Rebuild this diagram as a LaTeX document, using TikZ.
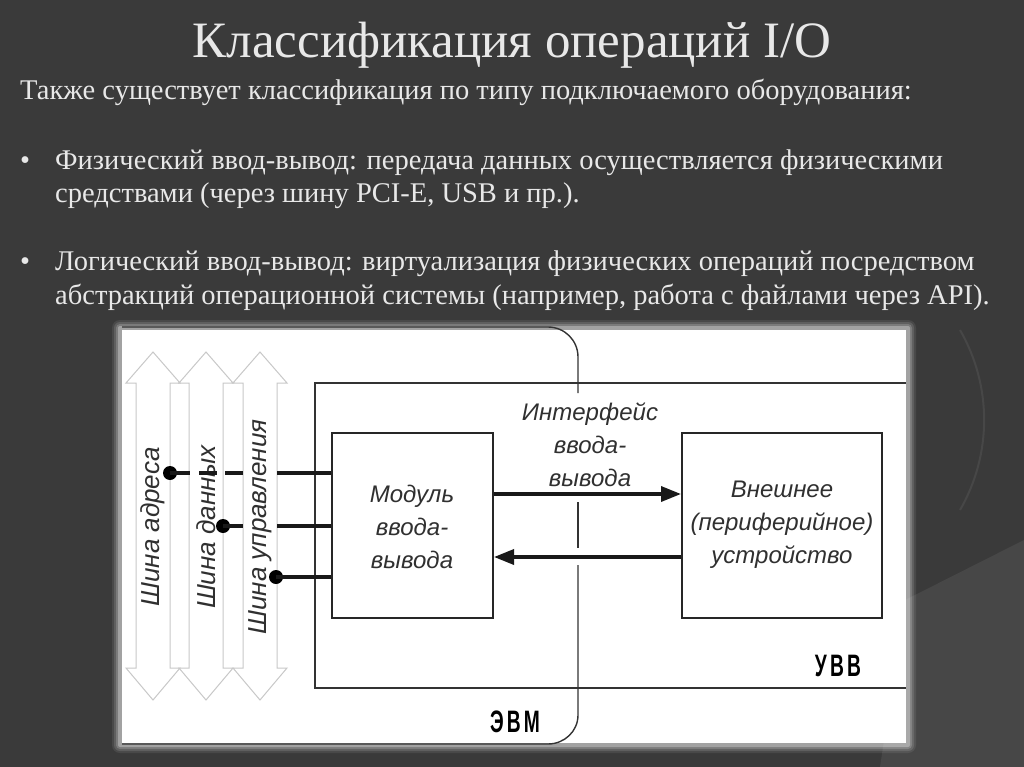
\documentclass[tikz,border=0pt]{standalone}
\usepackage{fontspec}
\setmainfont{Liberation Serif}
\newfontfamily\diag{Liberation Sans}
\usetikzlibrary{arrows.meta}
\definecolor{bg}{HTML}{3A3A3A}
\definecolor{bgl}{HTML}{474747}
\definecolor{txt}{HTML}{E8E8E8}
\definecolor{dg}{HTML}{303030}
\definecolor{busc}{HTML}{C8C8C8}
\tikzset{
  body/.style={anchor=base west,text=txt,font=\fontsize{28.5}{32}\selectfont,inner sep=0},
  lbl/.style={align=center,text=dg,font=\diag\itshape\fontsize{24}{33}\selectfont},
  blk/.style={draw=black!85,line width=2pt},
  thin/.style={draw=black!80,line width=1.4pt},
  conn/.style={line width=3.4pt,draw=black!90},
  bustxt/.style={rotate=90,text=dg,font=\diag\itshape\fontsize{26}{28}\selectfont},
  bold/.style={font=\diag\bfseries\fontsize{31}{32}\selectfont,xscale=0.62,text=black}
}
\begin{document}
\begin{tikzpicture}[x=1pt,y=-1pt]
\useasboundingbox (0,0) rectangle (1024,767);
\fill[bg] (0,0) rectangle (1024,767);
\fill[bgl] (905,600) -- (1024,540) -- (1024,767) -- (880,767) -- cycle;
\draw[bgl,line width=2pt] (960,330) arc[start angle=-30,end angle=30,radius=180];
% title and text
\node[text=txt,font=\fontsize{51}{54}\selectfont] (title) at (512,45) {Классификация операций I/O};
\node[body] (t1) at (20,100) {Также существует классификация по типу подключаемого оборудования:};
\node[body] (b1) at (20,170) {•};
\node[body] (t2) at (55,170) {Физический ввод-вывод: передача данных осуществляется физическими};
\node[body] (t3) at (55,203) {средствами (через шину PCI-E, USB и пр.).};
\node[body] (b2) at (20,270) {•};
\node[body] (t4) at (55,270) {Логический ввод-вывод: виртуализация физических операций посредством};
\node[body] (t5) at (55,304) {абстракций операционной системы (например, работа с файлами через API).};
% panel with glow
\foreach \i/\o in {8/0.08,6/0.12,4/0.18,2/0.3}{
  \fill[white,opacity=\o,rounded corners=\i pt] (120-\i,328-\i) rectangle (908+\i,745+\i);}
\fill[white] (122,330) rectangle (906,743);
% buses
\foreach \c/\n in {153/ba,206/bd,260/bu}{
  \draw[busc,line width=1pt,fill=white] (\c-17,383) -- (\c-27,383) -- (\c,352) -- (\c+27,383) -- (\c+17,383)
     -- (\c+17,668) -- (\c+27,668) -- (\c,700) -- (\c-27,668) -- (\c-17,668) -- cycle;
  \coordinate (\n) at (\c,527);
}
\fill[white] (123,384) rectangle (129,667);
\node[bustxt] (la) at (ba) {Шина адреса};
\node[bustxt] (ld) at (bd) {Шина данных};
\node[bustxt] (lu) at (bu) {Шина управления};
% УВВ region
\draw[thin] (906,383) -- (315,383) -- (315,688) -- (906,688);
% ЭВМ boundary
\draw[thin] (122,327) -- (548,327) to[out=0,in=90] (578,357) -- (578,393);
\draw[thin] (578,502) -- (578,548);
\draw[thin] (578,565) -- (578,715) to[out=-90,in=0] (548,744) -- (122,744);
% blocks
\node[blk,minimum width=161pt,minimum height=185pt,inner sep=0] (mod) at (412.5,525.5) {};
\node[lbl] (modt) at (412,527) {Модуль\\ввода-\\вывода};
\node[blk,minimum width=200pt,minimum height=185pt,inner sep=0] (ext) at (782,525.5) {};
\node[lbl] (extt) at (782,525) {Внешнее\\(периферийное)\\устройство};
\node[lbl,fill=white,inner sep=1pt] (ift) at (590,445) {Интерфейс\\ввода-\\вывода};
\node[bold] (uvv) at (838,666) {У\,В\,В};
\node[bold] (evm) at (515,722) {Э\,В\,М};
% arrows
\draw[conn,-{Triangle[length=20pt,width=15pt]}] (mod.east|-0,494) -- (ext.west|-0,494);
\draw[conn,-{Triangle[length=20pt,width=15pt]}] (ext.west|-0,557) -- (mod.east|-0,557);
% bus connections
\coordinate (da) at (170,473);
\coordinate (dd) at (223,526);
\coordinate (du) at (276,577);
\foreach \p in {da,dd,du}{\fill[black] (\p) circle (7pt);}
\draw[conn] (da) -- (190,473) (199,473) -- (217,473) (225,473) -- (243,473) (277,473) -- (mod.west|-da);
\draw[conn] (dd) -- (243,526) (277,526) -- (mod.west|-dd);
\draw[conn] (du) -- (mod.west|-du);
\end{tikzpicture}
\end{document}
